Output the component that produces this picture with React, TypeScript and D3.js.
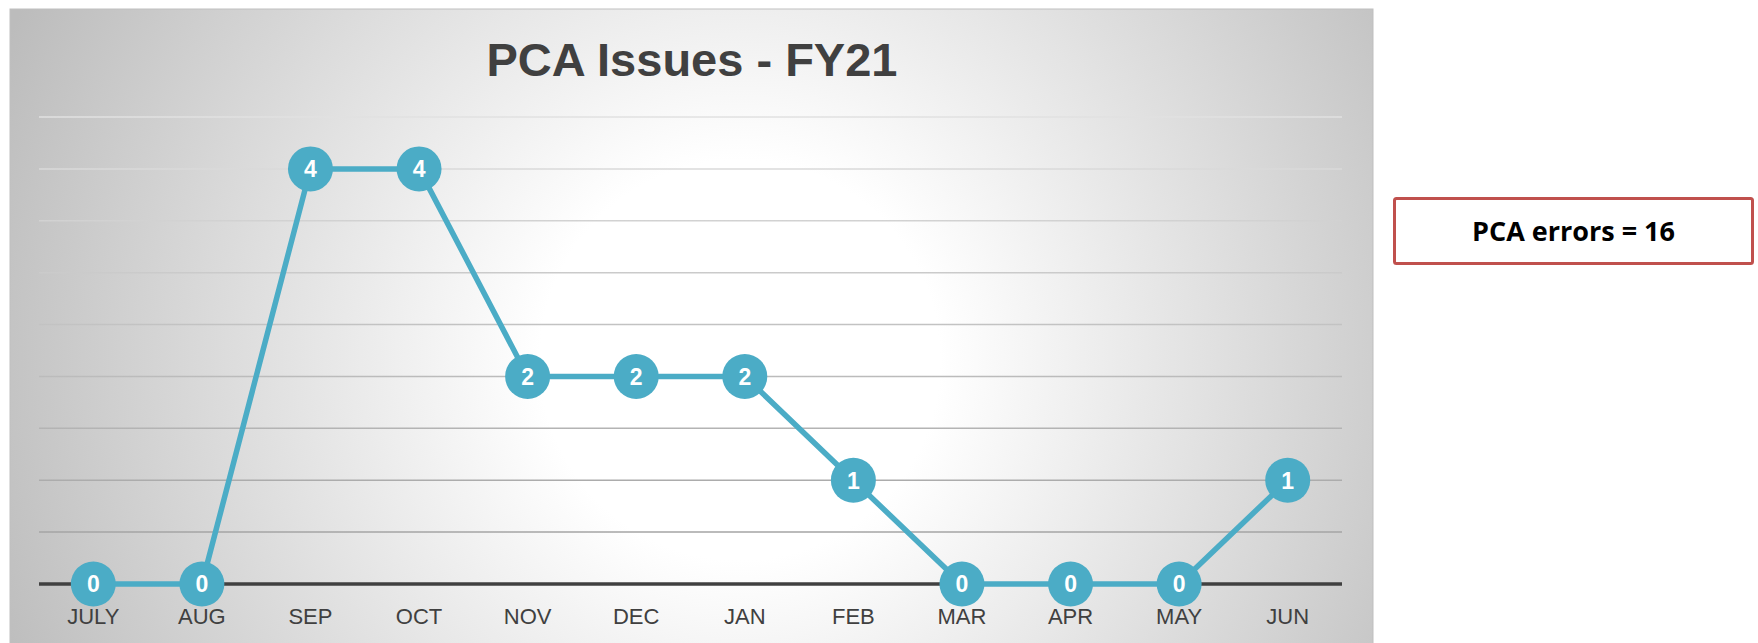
import React from 'react';
import * as d3 from 'd3';

const months = ['JULY', 'AUG', 'SEP', 'OCT', 'NOV', 'DEC', 'JAN', 'FEB', 'MAR', 'APR', 'MAY', 'JUN'];
const issues = [0, 0, 4, 4, 2, 2, 2, 1, 0, 0, 0, 1];
const gridValues = [0.5, 1, 1.5, 2, 2.5, 3, 3.5, 4, 4.5];
const chartTitle = 'PCA Issues - FY21';
const totalLabel = 'PCA errors = 16';

const width = 1758,
    height = 643;

const App = () => {
    const xScale = d3.scaleBand<string>()
        .domain(months)
        .range([39, 1342]);

    const yScale = d3.scaleLinear()
        .domain([0, 4.5])
        .range([584, 117]);

    const cx = (m: string) => (xScale(m) ?? 0) + xScale.bandwidth() / 2;

    const lineGenerator = d3.line<number>()
        .x((d, i) => cx(months[i]))
        .y(d => yScale(d));

    const [x0, x1] = xScale.range();

    return (
        <svg width={width} height={height} style={{ position: 'absolute', left: 0, top: 0 }}>
            <defs>
                <radialGradient id="panel-bg" gradientUnits="userSpaceOnUse" cx={740} cy={360} r={800}>
                    <stop offset="0%" stopColor="#ffffff" />
                    <stop offset="25%" stopColor="#ffffff" />
                    <stop offset="100%" stopColor="#bcbcbc" />
                </radialGradient>
                <linearGradient id="grid-stroke" gradientUnits="userSpaceOnUse" x1="0" y1="110" x2="0" y2="590">
                    <stop offset="0%" stopColor="#e2e2e2" />
                    <stop offset="100%" stopColor="#9c9c9c" />
                </linearGradient>
            </defs>

            <rect x={10} y={9} width={1363} height={640} fill="url(#panel-bg)" stroke="#bfbfbf" strokeWidth={1} />

            <text x={692} y={76} textAnchor="middle" fontFamily="'Liberation Sans', Arial, sans-serif"
                fontWeight="bold" fontSize={47} fill="#404040">{chartTitle}</text>

            {gridValues.map(v => (
                <line key={v} x1={x0} x2={x1} y1={yScale(v)} y2={yScale(v)}
                    stroke="url(#grid-stroke)" strokeWidth={1.5} />
            ))}
            <line x1={x0} x2={x1} y1={yScale(0)} y2={yScale(0)} stroke="#404040" strokeWidth={3.5} />

            {months.map(m => (
                <text key={m} x={cx(m)} y={624} textAnchor="middle"
                    fontFamily="'Liberation Sans', Arial, sans-serif" fontSize={22} fill="#404040">{m}</text>
            ))}

            <path d={lineGenerator(issues) ?? ''} fill="none" stroke="#4bacc6" strokeWidth={5.5} strokeLinejoin="round" />

            {issues.map((v, i) => (
                <g key={months[i]}>
                    <circle cx={cx(months[i])} cy={yScale(v)} r={22.5} fill="#4bacc6" />
                    <text x={cx(months[i])} y={yScale(v)} dy="0.36em" textAnchor="middle"
                        fontFamily="'Liberation Sans', Arial, sans-serif" fontWeight="bold" fontSize={23} fill="#ffffff">{v}</text>
                </g>
            ))}

            <rect x={1394.5} y={198.5} width={358} height={65} fill="#ffffff" stroke="#c0504d" strokeWidth={3} rx={2} />
            <text x={1573.5} y={231} dy="0.36em" textAnchor="middle"
                fontFamily="'Open Sans', 'Noto Sans', sans-serif" fontWeight="bold" fontSize={27} fill="#000000">{totalLabel}</text>
        </svg>
    );
};

export default App;
